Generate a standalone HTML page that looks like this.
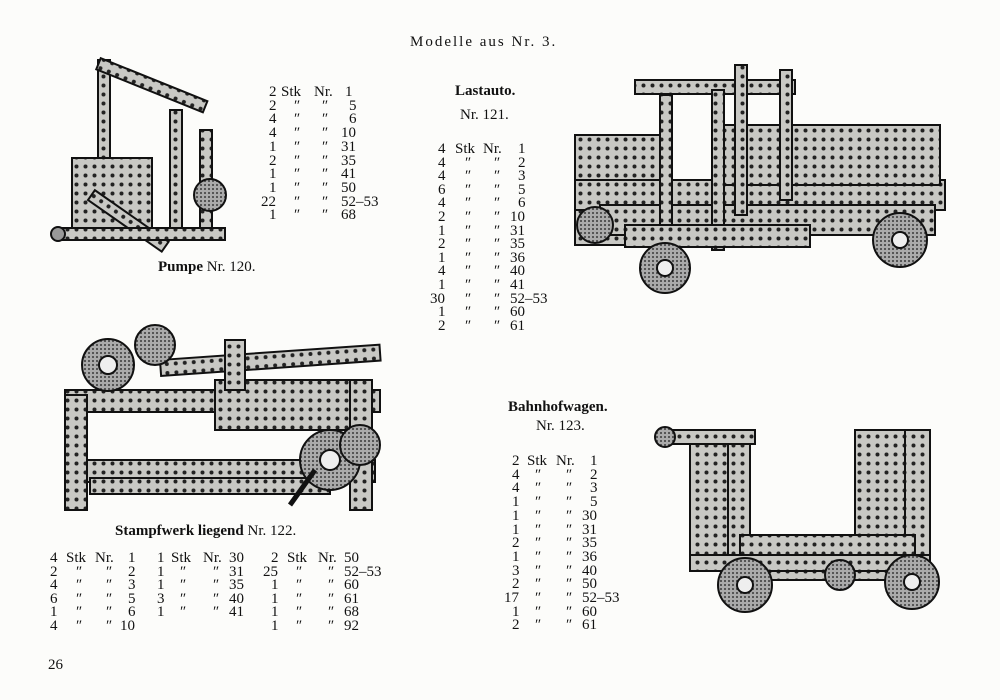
<!DOCTYPE html>
<html><head><meta charset="utf-8"><style>
body{margin:0;background:#fff}
#p{position:relative;width:1000px;height:700px;background:#fcfcfa;overflow:hidden;font-family:"Liberation Serif",serif;color:#111}
.t{position:absolute;font-size:15px;line-height:14px;white-space:nowrap}
.b{font-family:"Liberation Serif",serif;font-weight:bold;font-size:15px}
.r{position:absolute;height:14px;font-size:15px;line-height:14px;white-space:nowrap}
.r span{position:absolute;top:0}
svg{position:absolute;left:0;top:0}
</style></head><body><div id="p">
<svg width="1000" height="700" viewBox="0 0 1000 700">
<defs>
<pattern id="h" width="9" height="9" patternUnits="userSpaceOnUse"><rect width="9" height="9" fill="#c8c8c4"/><circle cx="4.5" cy="4.5" r="2" fill="#222"/></pattern>
<pattern id="g" width="4" height="4" patternUnits="userSpaceOnUse"><rect width="4" height="4" fill="#aaa"/><rect width="2" height="2" fill="#555"/></pattern>
</defs>
<g stroke="#111" stroke-width="2">
<rect x="98" y="60" width="12" height="175" fill="url(#h)"/>
<rect x="100" y="58" width="115" height="12" fill="url(#h)" transform="rotate(22 100 60)"/>
<rect x="72" y="158" width="80" height="75" fill="url(#h)"/>
<rect x="170" y="110" width="12" height="130" fill="url(#h)"/>
<rect x="200" y="130" width="12" height="100" fill="url(#h)"/>
<rect x="88" y="200" width="12" height="90" fill="url(#h)" transform="rotate(-55 88 200)"/>
<rect x="55" y="228" width="170" height="12" fill="url(#h)"/>
<circle cx="210" cy="195" r="16" fill="url(#g)"/>
<circle cx="58" cy="234" r="7" fill="#999"/>
<rect x="575" y="135" width="90" height="110" fill="url(#h)"/>
<rect x="575" y="180" width="370" height="30" fill="url(#h)"/>
<rect x="600" y="205" width="335" height="30" fill="url(#h)"/>
<rect x="715" y="125" width="225" height="60" fill="url(#h)"/>
<rect x="635" y="80" width="160" height="14" fill="url(#h)"/>
<rect x="660" y="95" width="12" height="140" fill="url(#h)"/>
<rect x="712" y="90" width="12" height="160" fill="url(#h)"/>
<rect x="780" y="70" width="12" height="130" fill="url(#h)"/>
<rect x="735" y="65" width="12" height="150" fill="url(#h)"/>
<rect x="625" y="225" width="185" height="22" fill="url(#h)"/>
<circle cx="665" cy="268" r="25" fill="url(#g)"/><circle cx="665" cy="268" r="8" fill="#eee"/>
<circle cx="900" cy="240" r="27" fill="url(#g)"/><circle cx="900" cy="240" r="8" fill="#eee"/>
<circle cx="595" cy="225" r="18" fill="url(#g)"/>
<rect x="65" y="390" width="315" height="22" fill="url(#h)"/>
<rect x="65" y="460" width="310" height="22" fill="url(#h)"/>
<rect x="65" y="395" width="22" height="115" fill="url(#h)"/>
<rect x="215" y="380" width="140" height="50" fill="url(#h)"/>
<rect x="350" y="380" width="22" height="130" fill="url(#h)"/>
<rect x="160" y="360" width="220" height="16" fill="url(#h)" transform="rotate(-4 160 360)"/>
<rect x="90" y="478" width="240" height="16" fill="url(#h)"/>
<rect x="225" y="340" width="20" height="50" fill="url(#h)"/>
<circle cx="108" cy="365" r="26" fill="url(#g)"/><circle cx="108" cy="365" r="9" fill="#eee"/>
<circle cx="155" cy="345" r="20" fill="url(#g)"/>
<circle cx="330" cy="460" r="30" fill="url(#g)"/><circle cx="330" cy="460" r="10" fill="#eee"/>
<circle cx="360" cy="445" r="20" fill="url(#g)"/>
<line x1="315" y1="470" x2="290" y2="505" stroke-width="5"/>
<rect x="690" y="440" width="55" height="130" fill="url(#h)"/>
<rect x="728" y="440" width="22" height="140" fill="url(#h)"/>
<rect x="855" y="430" width="75" height="130" fill="url(#h)"/>
<rect x="905" y="430" width="25" height="150" fill="url(#h)"/>
<rect x="740" y="535" width="175" height="45" fill="url(#h)"/>
<rect x="690" y="555" width="240" height="16" fill="url(#h)"/>
<rect x="665" y="430" width="90" height="14" fill="url(#h)"/>
<circle cx="665" cy="437" r="10" fill="url(#g)"/>
<circle cx="745" cy="585" r="27" fill="url(#g)"/><circle cx="745" cy="585" r="8" fill="#eee"/>
<circle cx="912" cy="582" r="27" fill="url(#g)"/><circle cx="912" cy="582" r="8" fill="#eee"/>
<circle cx="840" cy="575" r="15" fill="url(#g)"/>
</g>
</svg>

<div class="t" style="left:410px;top:35px;letter-spacing:2px">Modelle aus Nr. 3.</div>
<div class="t" style="left:158px;top:260px"><span class="b">Pumpe</span> Nr. 120.</div>
<div class="t b" style="left:455px;top:84px">Lastauto.</div>
<div class="t" style="left:460px;top:108px">Nr. 121.</div>
<div class="t" style="left:115px;top:524px"><span class="b">Stampfwerk liegend</span> Nr. 122.</div>
<div class="t b" style="left:508px;top:400px">Bahnhofwagen.</div>
<div class="t" style="left:536px;top:419px">Nr. 123.</div>
<div class="t" style="left:48px;top:658px">26</div>

<div style="position:absolute;left:0;top:85px">
<div class="r" style="top:0"><span style="left:269px">2</span><span style="left:281px">Stk</span><span style="left:314px">Nr.</span><span style="left:345px">1</span></div>
<div class="r" style="top:13.7px"><span style="left:269px">2</span><span style="left:294px">″</span><span style="left:322px">″</span><span style="left:349px">5</span></div>
<div class="r" style="top:27.4px"><span style="left:269px">4</span><span style="left:294px">″</span><span style="left:322px">″</span><span style="left:349px">6</span></div>
<div class="r" style="top:41.1px"><span style="left:269px">4</span><span style="left:294px">″</span><span style="left:322px">″</span><span style="left:341px">10</span></div>
<div class="r" style="top:54.8px"><span style="left:269px">1</span><span style="left:294px">″</span><span style="left:322px">″</span><span style="left:341px">31</span></div>
<div class="r" style="top:68.5px"><span style="left:269px">2</span><span style="left:294px">″</span><span style="left:322px">″</span><span style="left:341px">35</span></div>
<div class="r" style="top:82.2px"><span style="left:269px">1</span><span style="left:294px">″</span><span style="left:322px">″</span><span style="left:341px">41</span></div>
<div class="r" style="top:95.9px"><span style="left:269px">1</span><span style="left:294px">″</span><span style="left:322px">″</span><span style="left:341px">50</span></div>
<div class="r" style="top:109.6px"><span style="left:261px">22</span><span style="left:294px">″</span><span style="left:322px">″</span><span style="left:341px">52–53</span></div>
<div class="r" style="top:123.3px"><span style="left:269px">1</span><span style="left:294px">″</span><span style="left:322px">″</span><span style="left:341px">68</span></div>
</div>

<div style="position:absolute;left:0;top:142px">
<div class="r" style="top:0"><span style="left:438px">4</span><span style="left:455px">Stk</span><span style="left:483px">Nr.</span><span style="left:518px">1</span></div>
<div class="r" style="top:13.6px"><span style="left:438px">4</span><span style="left:465px">″</span><span style="left:494px">″</span><span style="left:518px">2</span></div>
<div class="r" style="top:27.2px"><span style="left:438px">4</span><span style="left:465px">″</span><span style="left:494px">″</span><span style="left:518px">3</span></div>
<div class="r" style="top:40.8px"><span style="left:438px">6</span><span style="left:465px">″</span><span style="left:494px">″</span><span style="left:518px">5</span></div>
<div class="r" style="top:54.4px"><span style="left:438px">4</span><span style="left:465px">″</span><span style="left:494px">″</span><span style="left:518px">6</span></div>
<div class="r" style="top:68px"><span style="left:438px">2</span><span style="left:465px">″</span><span style="left:494px">″</span><span style="left:510px">10</span></div>
<div class="r" style="top:81.6px"><span style="left:438px">1</span><span style="left:465px">″</span><span style="left:494px">″</span><span style="left:510px">31</span></div>
<div class="r" style="top:95.2px"><span style="left:438px">2</span><span style="left:465px">″</span><span style="left:494px">″</span><span style="left:510px">35</span></div>
<div class="r" style="top:108.8px"><span style="left:438px">1</span><span style="left:465px">″</span><span style="left:494px">″</span><span style="left:510px">36</span></div>
<div class="r" style="top:122.4px"><span style="left:438px">4</span><span style="left:465px">″</span><span style="left:494px">″</span><span style="left:510px">40</span></div>
<div class="r" style="top:136px"><span style="left:438px">1</span><span style="left:465px">″</span><span style="left:494px">″</span><span style="left:510px">41</span></div>
<div class="r" style="top:149.6px"><span style="left:430px">30</span><span style="left:465px">″</span><span style="left:494px">″</span><span style="left:510px">52–53</span></div>
<div class="r" style="top:163.2px"><span style="left:438px">1</span><span style="left:465px">″</span><span style="left:494px">″</span><span style="left:510px">60</span></div>
<div class="r" style="top:176.8px"><span style="left:438px">2</span><span style="left:465px">″</span><span style="left:494px">″</span><span style="left:510px">61</span></div>
</div>

<div style="position:absolute;left:0;top:551px">
<div class="r" style="top:0"><span style="left:50px">4</span><span style="left:66px">Stk</span><span style="left:95px">Nr.</span><span style="left:128px">1</span><span style="left:157px">1</span><span style="left:171px">Stk</span><span style="left:203px">Nr.</span><span style="left:229px">30</span><span style="left:271px">2</span><span style="left:287px">Stk</span><span style="left:318px">Nr.</span><span style="left:344px">50</span></div>
<div class="r" style="top:13.6px"><span style="left:50px">2</span><span style="left:76px">″</span><span style="left:106px">″</span><span style="left:128px">2</span><span style="left:157px">1</span><span style="left:180px">″</span><span style="left:213px">″</span><span style="left:229px">31</span><span style="left:263px">25</span><span style="left:296px">″</span><span style="left:328px">″</span><span style="left:344px">52–53</span></div>
<div class="r" style="top:27.2px"><span style="left:50px">4</span><span style="left:76px">″</span><span style="left:106px">″</span><span style="left:128px">3</span><span style="left:157px">1</span><span style="left:180px">″</span><span style="left:213px">″</span><span style="left:229px">35</span><span style="left:271px">1</span><span style="left:296px">″</span><span style="left:328px">″</span><span style="left:344px">60</span></div>
<div class="r" style="top:40.8px"><span style="left:50px">6</span><span style="left:76px">″</span><span style="left:106px">″</span><span style="left:128px">5</span><span style="left:157px">3</span><span style="left:180px">″</span><span style="left:213px">″</span><span style="left:229px">40</span><span style="left:271px">1</span><span style="left:296px">″</span><span style="left:328px">″</span><span style="left:344px">61</span></div>
<div class="r" style="top:54.4px"><span style="left:50px">1</span><span style="left:76px">″</span><span style="left:106px">″</span><span style="left:128px">6</span><span style="left:157px">1</span><span style="left:180px">″</span><span style="left:213px">″</span><span style="left:229px">41</span><span style="left:271px">1</span><span style="left:296px">″</span><span style="left:328px">″</span><span style="left:344px">68</span></div>
<div class="r" style="top:68px"><span style="left:50px">4</span><span style="left:76px">″</span><span style="left:106px">″</span><span style="left:120px">10</span><span style="left:271px">1</span><span style="left:296px">″</span><span style="left:328px">″</span><span style="left:344px">92</span></div>
</div>

<div style="position:absolute;left:0;top:454px">
<div class="r" style="top:0"><span style="left:512px">2</span><span style="left:527px">Stk</span><span style="left:556px">Nr.</span><span style="left:590px">1</span></div>
<div class="r" style="top:13.7px"><span style="left:512px">4</span><span style="left:535px">″</span><span style="left:566px">″</span><span style="left:590px">2</span></div>
<div class="r" style="top:27.4px"><span style="left:512px">4</span><span style="left:535px">″</span><span style="left:566px">″</span><span style="left:590px">3</span></div>
<div class="r" style="top:41.1px"><span style="left:512px">1</span><span style="left:535px">″</span><span style="left:566px">″</span><span style="left:590px">5</span></div>
<div class="r" style="top:54.8px"><span style="left:512px">1</span><span style="left:535px">″</span><span style="left:566px">″</span><span style="left:582px">30</span></div>
<div class="r" style="top:68.5px"><span style="left:512px">1</span><span style="left:535px">″</span><span style="left:566px">″</span><span style="left:582px">31</span></div>
<div class="r" style="top:82.2px"><span style="left:512px">2</span><span style="left:535px">″</span><span style="left:566px">″</span><span style="left:582px">35</span></div>
<div class="r" style="top:95.9px"><span style="left:512px">1</span><span style="left:535px">″</span><span style="left:566px">″</span><span style="left:582px">36</span></div>
<div class="r" style="top:109.6px"><span style="left:512px">3</span><span style="left:535px">″</span><span style="left:566px">″</span><span style="left:582px">40</span></div>
<div class="r" style="top:123.3px"><span style="left:512px">2</span><span style="left:535px">″</span><span style="left:566px">″</span><span style="left:582px">50</span></div>
<div class="r" style="top:137px"><span style="left:504px">17</span><span style="left:535px">″</span><span style="left:566px">″</span><span style="left:582px">52–53</span></div>
<div class="r" style="top:150.7px"><span style="left:512px">1</span><span style="left:535px">″</span><span style="left:566px">″</span><span style="left:582px">60</span></div>
<div class="r" style="top:164.4px"><span style="left:512px">2</span><span style="left:535px">″</span><span style="left:566px">″</span><span style="left:582px">61</span></div>
</div>
</div></body></html>
